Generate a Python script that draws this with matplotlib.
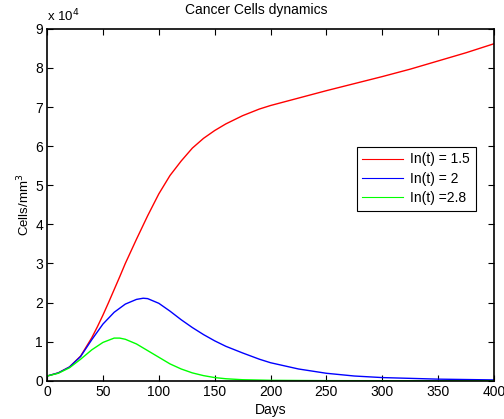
import matplotlib
matplotlib.use("Agg")
import matplotlib.pyplot as plt
from matplotlib.ticker import FuncFormatter

plt.rcParams['font.family'] = ['Liberation Sans', 'DejaVu Sans']

# values (cells/mm^3)
days_red = [0, 10, 20, 30, 40, 45, 50, 55, 60, 65, 70, 80, 90, 100, 110, 120, 130,
            140, 150, 160, 175, 190, 200, 225, 250, 275, 300, 325, 350, 375, 400]
cells_red = [1200, 2000, 3500, 6300, 11000, 13800, 16800, 20000, 23300, 26600, 30000,
             36200, 42200, 47800, 52500, 56200, 59500, 62000, 64000, 65700, 67800,
             69500, 70400, 72300, 74200, 76000, 77800, 79700, 81800, 83900, 86200]

days_blue = [0, 10, 20, 30, 40, 50, 60, 70, 80, 86, 90, 100, 110, 120, 130, 140, 150,
             160, 175, 190, 200, 225, 250, 275, 300, 350, 400]
cells_blue = [1200, 2000, 3500, 6200, 10500, 14500, 17500, 19600, 20800, 21100, 21000,
              19800, 17800, 15600, 13600, 11800, 10200, 8800, 7100, 5500, 4600, 3000,
              1900, 1200, 800, 400, 200]

days_green = [0, 10, 20, 30, 40, 50, 60, 65, 70, 80, 90, 100, 110, 120, 130, 140, 150,
              160, 175, 200, 250, 300, 400]
cells_green = [1200, 1900, 3300, 5500, 7900, 9800, 10900, 10900, 10600, 9400, 7700,
               6000, 4300, 3000, 2000, 1300, 800, 500, 250, 100, 20, 0, 0]

labels = ['In(t) = 1.5', 'In(t) = 2', 'In(t) =2.8']

fig = plt.figure(figsize=(5.04, 4.19), dpi=100)
ax = fig.add_axes([0.0935, 0.0914, 0.8865, 0.8396])

ax.plot(days_red, cells_red, color=(1, 0, 0), lw=1.0, label=labels[0])
ax.plot(days_blue, cells_blue, color=(0, 0, 1), lw=1.0, label=labels[1])
ax.plot(days_green, cells_green, color=(0, 1, 0), lw=1.0, label=labels[2])

ax.set_xlim(0, 400)
ax.set_ylim(0, 90000)
ax.set_xticks(range(0, 401, 50))
ax.set_yticks(range(0, 90001, 10000))
ax.yaxis.set_major_formatter(FuncFormatter(lambda v, p: '%d' % round(v / 1e4)))
ax.tick_params(direction='in', top=True, right=True, labelsize=10, length=4, width=0.8, pad=3)
for s in ax.spines.values():
    s.set_linewidth(1.2)

ax.set_title('Cancer Cells dynamics', fontsize=10, pad=11, x=0.468)
ax.set_xlabel('Days', fontsize=10, labelpad=3)
ax.set_ylabel('Cells/mm$^3$', fontsize=9.5, labelpad=2)
ax.text(0.0, 1.014, 'x 10$^4$', transform=ax.transAxes, fontsize=9.5, ha='left', va='bottom')

leg = ax.legend(loc='upper left', bbox_to_anchor=(0.6933, 0.6645), borderaxespad=0,
                fontsize=10, fancybox=False, edgecolor='black', framealpha=1,
                handlelength=2.95, borderpad=0.4, labelspacing=0.38, handletextpad=0.5)
leg.get_frame().set_linewidth(0.8)
for line in leg.get_lines():
    line.set_linewidth(0.8)

fig.savefig('out.png', dpi=100)
